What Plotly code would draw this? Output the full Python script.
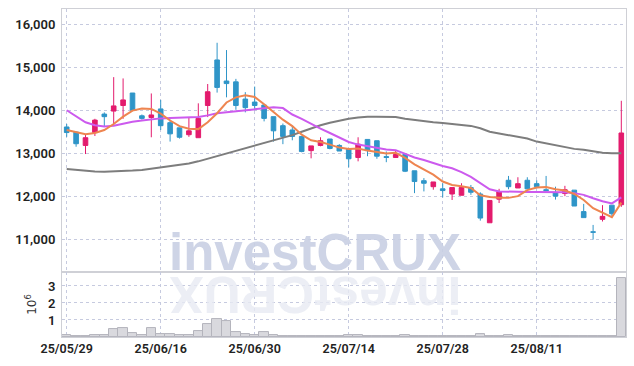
import plotly.graph_objects as go
from plotly.subplots import make_subplots

dates = ["25/05/29", "25/05/30", "25/06/02", "25/06/04", "25/06/05", "25/06/09", "25/06/10", "25/06/11",
         "25/06/12", "25/06/13", "25/06/16", "25/06/17", "25/06/18", "25/06/19", "25/06/20", "25/06/23",
         "25/06/24", "25/06/25", "25/06/26", "25/06/27", "25/06/30", "25/07/01", "25/07/02", "25/07/03",
         "25/07/04", "25/07/07", "25/07/08", "25/07/09", "25/07/10", "25/07/11", "25/07/14", "25/07/15",
         "25/07/16", "25/07/17", "25/07/18", "25/07/21", "25/07/22", "25/07/23", "25/07/24", "25/07/25",
         "25/07/28", "25/07/29", "25/07/30", "25/07/31", "25/08/01", "25/08/04", "25/08/05", "25/08/06",
         "25/08/07", "25/08/08", "25/08/11", "25/08/12", "25/08/13", "25/08/14", "25/08/18", "25/08/19",
         "25/08/20", "25/08/21", "25/08/22", "25/08/25"]

opens = [13610, 13490, 13180, 13480, 13910, 13980, 14110, 14400, 13870, 13830,
         14030, 13710, 13590, 13430, 13360, 14110, 15170, 14680, 14660, 14260,
         14190, 14120, 13850, 13640, 13540, 13390, 13060, 13180, 13330, 13180,
         13100, 12900, 13320, 13290, 12920, 12900, 12970, 12590, 12360, 12220,
         12170, 12050, 12020, 12200, 12050, 11380, 11930, 12370, 12190, 12370,
         12290, 12150, 12080, 12060, 12140, 11640, 11170, 11460, 11790, 11800]
highs = [13680, 13500, 13440, 13800, 13950, 14770, 14740, 14400, 13900, 14390,
         14240, 13780, 13590, 13840, 14160, 14610, 15570, 15400, 14730, 14420,
         14550, 14120, 13850, 13690, 13640, 13390, 13170, 13370, 13330, 13210,
         13100, 13370, 13320, 13290, 13040, 13060, 13000, 12590, 12420, 12330,
         12300, 12200, 12300, 12260, 12090, 11900, 12170, 12470, 12440, 12440,
         12370, 12470, 12220, 12240, 12140, 11820, 11330, 11790, 11790, 14220]
lows = [13380, 13150, 12980, 13400, 13620, 13680, 13800, 14000, 13780, 13370,
        13540, 13270, 13340, 13380, 13360, 13840, 14410, 14300, 14010, 13950,
        14030, 13740, 13270, 13210, 13300, 13020, 12880, 13160, 13090, 13050,
        12670, 12810, 12930, 12870, 12790, 12890, 12560, 12070, 12110, 12150,
        11970, 11910, 12020, 12030, 11430, 11380, 11840, 12160, 12190, 12170,
        12180, 12110, 11920, 12000, 11770, 11500, 10990, 11410, 11510, 11750]
closes = [13480, 13220, 13360, 13770, 13850, 14100, 14240, 14000, 13810, 13890,
          13640, 13450, 13370, 13520, 13810, 14430, 14530, 14620, 14110, 14060,
          14110, 13810, 13520, 13390, 13390, 13040, 13170, 13290, 13110, 13050,
          12870, 13210, 13060, 12930, 12900, 12970, 12580, 12340, 12300, 12330,
          12130, 12200, 12200, 12090, 11490, 11900, 12100, 12220, 12290, 12170,
          12220, 12130, 12000, 12150, 11770, 11500, 11160, 11530, 11590, 13470]

ma5 = [13540, 13490, 13440, 13470, 13540, 13680, 13850, 13990, 14040, 14030,
       13920, 13760, 13630, 13570, 13560, 13720, 13930, 14180, 14300, 14350,
       14310, 14140, 13960, 13780, 13630, 13430, 13300, 13260, 13200, 13130,
       13100, 13110, 13060, 13020, 12990, 13010, 12890, 12740, 12620, 12500,
       12340, 12260, 12230, 12190, 12020, 11980, 11960, 11960, 12000, 12140,
       12200, 12210, 12160, 12130, 12050, 11910, 11720, 11620, 11510, 11850]
ma20 = [14000, 13850, 13720, 13650, 13620, 13640, 13690, 13730, 13760, 13790,
        13810, 13820, 13830, 13835, 13845, 13880, 13930, 13950, 13975, 14000,
        14020, 14060, 14070, 14050, 13900, 13800, 13680, 13570, 13470, 13370,
        13260, 13200, 13160, 13110, 13085, 13070, 12990, 12900, 12840, 12770,
        12700, 12650, 12560, 12450, 12300, 12160, 12110, 12100, 12095, 12095,
        12095, 12095, 12095, 12090, 12070, 12030, 11950, 11880, 11830, 11970]
ma60 = [12630, 12610, 12590, 12575, 12570, 12575, 12585, 12595, 12610, 12640,
        12660, 12685, 12715, 12760, 12810, 12870, 12930, 12990, 13050, 13110,
        13170, 13230, 13290, 13350, 13420, 13500, 13580, 13650, 13710, 13760,
        13800, 13830, 13850, 13850, 13850, 13840, 13800, 13770, 13740, 13720,
        13700, 13680, 13660, 13635, 13580, 13500, 13460, 13420, 13385, 13340,
        13270, 13230, 13190, 13150, 13100, 13080, 13050, 13010, 13000, 13000]

volume_m = [0.09, 0.08, 0.04, 0.10, 0.10, 0.47, 0.53, 0.22, 0.12, 0.53,
            0.20, 0.20, 0.10, 0.10, 0.37, 0.78, 1.06, 0.96, 0.27, 0.20,
            0.10, 0.27, 0.12, 0.06, 0.05, 0.05, 0.04, 0.04, 0.05, 0.08,
            0.10, 0.09, 0.05, 0.04, 0.04, 0.05, 0.10, 0.06, 0.04, 0.04,
            0.05, 0.04, 0.04, 0.06, 0.20, 0.06, 0.05, 0.10, 0.04, 0.04,
            0.06, 0.08, 0.05, 0.04, 0.05, 0.04, 0.04, 0.04, 0.05, 3.47]

tick_dates = ["25/05/29", "25/06/16", "25/06/30", "25/07/14", "25/07/28", "25/08/11"]
price_ticks = [11000, 12000, 13000, 14000, 15000, 16000]
volume_ticks = [1, 2, 3]

FONT = "Roboto, sans-serif"
GRID = "#c6cadf"
LINE = "#cfd0d6"
UP = "#e31b6d"
DOWN = "#2f95c8"
TICKFONT = dict(family=FONT, size=13, color="#222222", weight=600)

fig = make_subplots(rows=2, cols=1, shared_xaxes=True, vertical_spacing=0,
                    row_heights=[0.802, 0.198])

fig.add_trace(go.Scatter(x=dates, y=ma60, mode="lines",
                         line=dict(color="#7d7d7d", width=2), showlegend=False), row=1, col=1)
fig.add_trace(go.Scatter(x=dates, y=ma20, mode="lines",
                         line=dict(color="#cc5aee", width=2), showlegend=False), row=1, col=1)
fig.add_trace(go.Scatter(x=dates, y=ma5, mode="lines",
                         line=dict(color="#ee8550", width=2), showlegend=False), row=1, col=1)

fig.add_trace(go.Candlestick(
    x=dates, open=opens, high=highs, low=lows, close=closes,
    increasing=dict(line=dict(color=UP, width=1), fillcolor=UP),
    decreasing=dict(line=dict(color=DOWN, width=1), fillcolor=DOWN),
    whiskerwidth=0, showlegend=False), row=1, col=1)

fig.add_trace(go.Bar(x=dates, y=volume_m,
                     marker=dict(color="#d9d9de", line=dict(color="#b4b4bc", width=1)),
                     showlegend=False), row=2, col=1)

axis_common = dict(type="category", range=[-0.5, 59.5], tickmode="array", tickvals=tick_dates,
                   showgrid=True, gridcolor=GRID, griddash="dot", gridwidth=1, automargin=False,
                   showline=True, linecolor=LINE, mirror=True, ticks="", zeroline=False)
fig.update_xaxes(**axis_common)
fig.update_xaxes(showticklabels=False, rangeslider_visible=False, row=1, col=1)
fig.update_xaxes(showticklabels=True, ticktext=tick_dates,
                 tickfont=dict(family=FONT, size=12.5, color="#222222", weight=600), row=2, col=1)

fig.update_yaxes(range=[10233, 16356], tickmode="array", tickvals=price_ticks,
                 tickformat=",d", automargin=False,
                 showgrid=True, gridcolor=GRID, griddash="dot", ticklabelstandoff=3,
                 showline=True, linecolor=LINE, mirror=True, ticks="", zeroline=False,
                 tickfont=TICKFONT, row=1, col=1)
fig.update_yaxes(range=[0, 3.82], tickmode="array", tickvals=volume_ticks, automargin=False,
                 showgrid=True, gridcolor=GRID, griddash="dot", ticklabelstandoff=3,
                 showline=True, linecolor=LINE, mirror=True, ticks="", zeroline=False,
                 tickfont=TICKFONT,
                 title=dict(text="10<sup>6</sup>", font=dict(family="DejaVu Sans", size=12, color="#333333"),
                            standoff=8),
                 row=2, col=1)

fig.add_annotation(text="<b>investCRUX</b>", xref="paper", yref="paper", x=0.449, y=0.165,
                   xanchor="center", yanchor="bottom", showarrow=False,
                   font=dict(family="Liberation Sans, Arial, sans-serif", size=51, color="#c9d0e4"),
                   opacity=0.9)
fig.add_annotation(text="<b>investCRUX</b>", xref="paper", yref="paper", x=0.449, y=0.222,
                   xanchor="center", yanchor="top", showarrow=False, textangle=180,
                   font=dict(family="Liberation Sans, Arial, sans-serif", size=51, color="#e8ebf3"),
                   opacity=0.8)

fig.update_layout(width=634, height=366, margin=dict(l=62, r=8, t=9, b=29),
                  paper_bgcolor="white", plot_bgcolor="white", bargap=0,
                  showlegend=False, hovermode=False)

fig.write_html("out.html", config={"displayModeBar": False},
               post_script="document.body.style.margin='0px';")
